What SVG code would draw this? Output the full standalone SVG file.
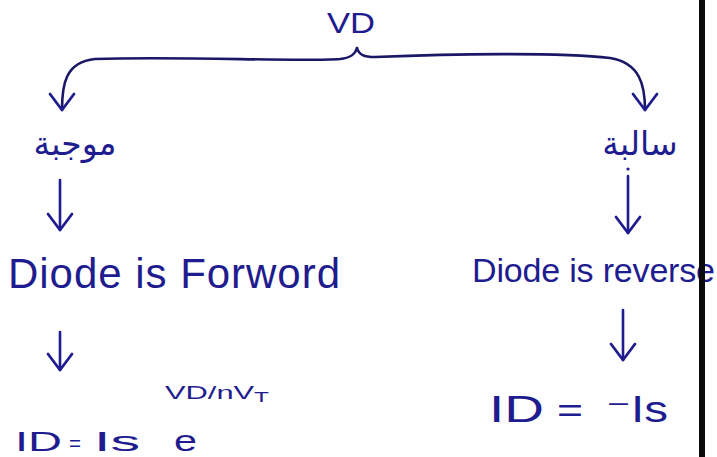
<svg xmlns="http://www.w3.org/2000/svg" width="717" height="457" viewBox="0 0 717 457">
  <style>
    .ink { fill: #1e1c8e; font-family: "Liberation Sans", "DejaVu Sans", sans-serif; }
    .ar { fill: #1e1c8e; font-family: "DejaVu Sans", "Noto Sans", sans-serif; }
    .line { fill: none; stroke: #1e1c8e; stroke-width: 2.6; stroke-linecap: round; stroke-linejoin: round; }
    .brace { fill: none; stroke: #1a1866; stroke-width: 2.6; stroke-linecap: round; }
  </style>
  <defs>
    <marker id="head" viewBox="-20 -16 22 32" refX="0" refY="0" markerWidth="22" markerHeight="32" markerUnits="userSpaceOnUse" orient="auto">
      <path d="M-16,-12 L0,0 L-16,12" fill="none" stroke="#1e1c8e" stroke-width="2.8" stroke-linecap="round" stroke-linejoin="round"/>
    </marker>
  </defs>
  <rect x="0" y="0" width="717" height="457" fill="#fefefe"/>

  <g id="connectors">
    <path class="brace" d="M357,48 C355,55 350,58 340,59 C300,62 180,56 95,59 C65,62 62,85 62,110" marker-end="url(#head)"/>
    <path class="brace" d="M357,48 C359,55 364,57 375,57 C450,54 560,52 610,58 C640,63 645,85 645,110" marker-end="url(#head)"/>
    <path class="line" d="M60,180 L60,230" marker-end="url(#head)"/>
    <circle cx="628" cy="169" r="1.6" fill="#1e1c8e"/>
    <path class="line" d="M628,176 L628,233" marker-end="url(#head)"/>
    <path class="line" d="M60,332 L60,370" marker-end="url(#head)"/>
    <path class="line" d="M623,310 L623,360" marker-end="url(#head)"/>
  </g>

  <g id="vd">
    <text class="ink" x="327" y="33" font-size="29" textLength="48" lengthAdjust="spacingAndGlyphs">VD</text>
  </g>

  <g id="positive">
    <text class="ar" x="75" y="155" font-size="33" text-anchor="middle" direction="rtl">موجبة</text>
  </g>

  <g id="negative">
    <text class="ar" x="640" y="155" font-size="33" text-anchor="middle" direction="rtl">سالبة</text>
  </g>

  <g id="forward">
    <text class="ink" x="8" y="288" font-size="42" textLength="332" lengthAdjust="spacing">Diode is Forword</text>
  </g>

  <g id="reverse">
    <text class="ink" x="472" y="282" font-size="34" textLength="243" lengthAdjust="spacing">Diode is reverse</text>
  </g>

  <g id="eq-forward">
    <text class="ink" x="165" y="399" font-size="19" textLength="104" lengthAdjust="spacingAndGlyphs">VD/nV<tspan font-size="15" dy="3">T</tspan></text>
    <text class="ink" x="15" y="451" font-size="27" textLength="47" lengthAdjust="spacingAndGlyphs">ID</text>
    <text class="ink" x="69" y="451" font-size="22" textLength="12" lengthAdjust="spacingAndGlyphs">=</text>
    <text class="ink" x="94" y="451" font-size="27" textLength="46" lengthAdjust="spacingAndGlyphs">Is</text>
    <text class="ink" x="174" y="451" font-size="30" textLength="23" lengthAdjust="spacingAndGlyphs">e</text>
  </g>

  <g id="eq-reverse">
    <text class="ink" x="489" y="422" font-size="36" textLength="55" lengthAdjust="spacingAndGlyphs">ID</text>
    <text class="ink" x="557" y="422" font-size="34" textLength="26" lengthAdjust="spacingAndGlyphs">=</text>
    <text class="ink" x="606" y="422" font-size="36" textLength="62" lengthAdjust="spacingAndGlyphs">⁻Is</text>
  </g>

  <rect id="edge" x="699" y="0" width="6" height="457" fill="#0a0a0a"/>
</svg>
